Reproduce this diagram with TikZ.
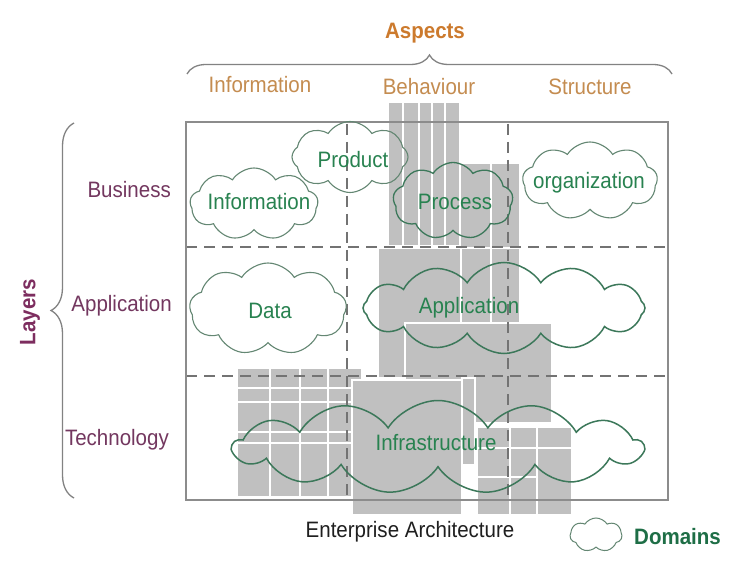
\documentclass[tikz,border=0pt]{standalone}
\usepackage{fontspec}
\setmainfont{Liberation Sans}[FakeStretch=0.92]
\usetikzlibrary{shapes.symbols,decorations.pathreplacing}
\definecolor{aspectc}{RGB}{204,122,45}
\definecolor{aspectl}{RGB}{196,140,80}
\definecolor{layerc}{RGB}{125,45,95}
\definecolor{layerl}{RGB}{115,55,95}
\definecolor{cloudline}{RGB}{100,135,115}
\definecolor{cloudbig}{RGB}{60,120,90}
\definecolor{cloudtext}{RGB}{40,130,80}
\definecolor{domc}{RGB}{30,110,70}
\definecolor{blockc}{RGB}{192,192,192}
\definecolor{framec}{RGB}{140,140,140}
\definecolor{dashc}{RGB}{115,115,115}
\definecolor{bracec}{RGB}{130,130,130}
\tikzset{
  txt/.style={font=\fontsize{22.3}{26}\selectfont, inner sep=0pt},
  boldtxt/.style={font=\fontsize{22.3}{26}\selectfont\bfseries, inner sep=0pt},
  aspectlab/.style={txt, text=aspectl},
  layerlab/.style={txt, text=layerl, anchor=east},
  cloudlab/.style={txt, text=cloudtext},
  domcloud/.style={cloud, cloud ignores aspect, cloud puff arc=115, draw=cloudline, line width=1.1pt, inner sep=0pt},
  bigcloud/.style={domcloud, draw=cloudbig, line width=1.5pt},
  gblock/.style={fill=blockc, draw=white, line width=1.6pt},
  wline/.style={draw=white, line width=1.6pt},
  divline/.style={draw=dashc, line width=1.8pt, dash pattern=on 11pt off 7pt},
  bracesty/.style={decorate, decoration={brace, amplitude=19pt}, draw=bracec, line width=1.3pt},
}
\begin{document}
\begin{tikzpicture}[x=1pt,y=-1pt]
\useasboundingbox (0,0) rectangle (755,577);
\fill[white] (0,0) rectangle (755,577);

% ---------- gray blocks ----------
% behaviour strips (business)
\foreach \a/\b in {388/403,403/419,419/432,432/445,445/460}
  \filldraw[gblock] (\a,102) rectangle (\b,246);
% process column
\filldraw[gblock] (460,163) rectangle (491,248);
\filldraw[gblock] (491,163) rectangle (520,248);
% application block
\filldraw[gblock] (378,248) rectangle (461,378);
\filldraw[gblock] (461,248) rectangle (491,378);
\filldraw[gblock] (491,248) rectangle (520,378);
% application lower block
\filldraw[gblock] (405,323) rectangle (552,423);
\filldraw[gblock] (462,378) rectangle (475,465);
% technology left grid
\filldraw[gblock] (237,368) rectangle (362,497);
\foreach \xx in {270,300,328} \draw[wline] (\xx,368) -- (\xx,497);
\foreach \yy in {388,402,432,443} \draw[wline] (237,\yy) -- (362,\yy);
% technology middle block
\filldraw[gblock] (352,380) rectangle (462,515);
% technology right grid
\filldraw[gblock] (477,427) rectangle (572,515);
\foreach \xx in {510,537} \draw[wline] (\xx,427) -- (\xx,515);
\draw[wline] (477,448) -- (572,448);
\draw[wline] (477,477) -- (537,477);

% ---------- frame and dividers ----------
\coordinate (ftl) at (186,122);
\coordinate (fbr) at (668,500);
\draw[divline] (186,247) -- (668,247);
\draw[divline] (186,376) -- (668,376);
\draw[divline] (347,124) -- (347,500);
\draw[divline] (508,124) -- (508,500);
\draw[draw=framec, line width=1.6pt] (ftl) rectangle (fbr);

% ---------- clouds ----------
\node[domcloud, cloud puffs=9,  minimum width=128pt, minimum height=72pt] (cinfo) at (254,204) {};
\node[domcloud, cloud puffs=8,  minimum width=116pt, minimum height=71pt] (cprod) at (350,157) {};
\node[domcloud, cloud puffs=9,  minimum width=120pt, minimum height=77pt, draw=cloudbig, line width=1.3pt] (cproc) at (453,201) {};
\node[domcloud, cloud puffs=9,  minimum width=135pt, minimum height=78pt] (corg)  at (590,181) {};
\node[domcloud, cloud puffs=9,  minimum width=157pt, minimum height=92pt] (cdata) at (268,309) {};
\node[bigcloud, cloud puffs=12, minimum width=282pt, minimum height=91pt] (capp)  at (504,308) {};
\node[bigcloud, cloud puffs=13, minimum width=410pt, minimum height=93pt] (cinfr) at (438,447) {};
\node[domcloud, cloud puffs=7,  minimum width=52pt,  minimum height=34pt, line width=1pt] (cleg) at (596,535) {};

\node[cloudlab] (tinfo) at (259,202) {Information};
\node[cloudlab] (tprod) at (353,160) {Product};
\node[cloudlab] (tproc) at (455,202) {Process};
\node[cloudlab] (torg)  at (589,183) {organization};
\node[cloudlab] (tdata) at (270,311) {Data};
\node[cloudlab] (tapp)  at (469,308) {Application};
\node[cloudlab] (tinfr) at (436,443) {Infrastructure};

% ---------- aspects ----------
\node[boldtxt, text=aspectc] (aspects) at (425,33) {Aspects};
\coordinate (abl) at (187,74);
\coordinate (abr) at (672,74);
\draw[bracesty] (abl) -- (abr);
\node[aspectlab] (ainfo) at (260,85) {Information};
\node[aspectlab] (abeh)  at (429,87) {Behaviour};
\node[aspectlab] (astr)  at (590,87) {Structure};

% ---------- layers ----------
\coordinate (lbb) at (74,498);
\coordinate (lbt) at (74,123);
\draw[bracesty, decoration={brace, amplitude=23pt}] (lbb) -- (lbt);
\node[boldtxt, text=layerc, rotate=90] (layers) at (30,312) {Layers};
\node[layerlab] (lbus) at (171,190) {Business};
\node[layerlab] (lapp) at (172,306) {Application};
\node[layerlab] (ltec) at (169,440) {Technology};

% ---------- legend ----------
\node[txt, text=black!88] (ea) at (410,532) {Enterprise Architecture};
\node[boldtxt, text=domc, anchor=west] (dom) at (634,537) {Domains};
\end{tikzpicture}
\end{document}
